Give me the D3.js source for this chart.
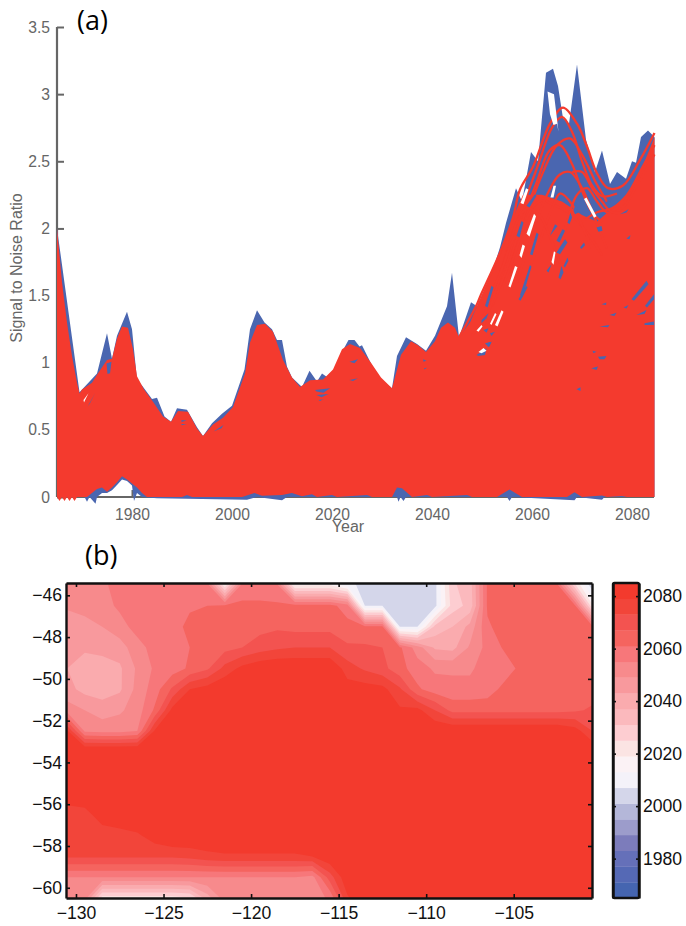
<!DOCTYPE html>
<html>
<head>
<meta charset="utf-8">
<title>Signal to Noise Ratio and emergence year</title>
<script src="https://cdn.jsdelivr.net/npm/d3@7/dist/d3.min.js"></script>
<style>
	html, body { margin: 0; padding: 0; background: #fff; }
	svg { display: block; }
	text { font-family: "Liberation Sans", Arial, sans-serif; }
</style>
</head>
<body>
<div id="chart"></div>
<script>

// ---- panel (a): [year, signal to noise]
var blueTop = [[1965,2.0],[1969.5,.78],[1971,.84],[1973,.92],[1975,1.22],[1976,1.03],[1977,1.2],[1979,1.38],[1980,1.25],[1980.8,.95],[1981,.87],[1982,.83],[1984,.73],[1985,.74],[1986.5,.6],[1987.8,.56],[1989,.66],[1991,.65],[1993,.52],[1994.2,.455],[1996,.55],[1998,.62],[2000,.68],[2002.5,.95],[2003.6,1.25],[2005,1.39],[2006.5,1.3],[2008,1.25],[2009,1.17],[2010,1.17],[2011,.97],[2012,.89],[2014,.82],[2015.5,.94],[2017,.86],[2018,.92],[2019.5,.88],[2021,.97],[2022,1.08],[2023.3,1.17],[2024.5,1.17],[2025.5,1.12],[2026,1.13],[2028,.98],[2030,.87],[2032,.81],[2033,1.05],[2034.8,1.19],[2037,1.14],[2038.8,1.09],[2040.6,1.2],[2042,1.33],[2043,1.42],[2044,1.67],[2045.4,1.19],[2047.8,1.45],[2049,1.42],[2052,1.67],[2053.6,1.86],[2054.8,2.04],[2056.8,2.3],[2058,2.2],[2059.8,2.57],[2061.2,2.5],[2062.8,3.16],[2064.2,3.19],[2065.2,3.06],[2066.2,2.82],[2067.4,2.78],[2069,3.22],[2070.8,2.66],[2072.6,2.42],[2074,2.58],[2075.6,2.33],[2077,2.42],[2078.8,2.37],[2080,2.5],[2080.8,2.49],[2081.8,2.68],[2083.2,2.73],[2084.5,2.68]];

var blueBottom = [[1965,0],[1970.5,0],[1971,-.035],[1971.5,0],[1972,-.02],[1972.7,-.05],[1973,0],[1974,.03],[1975,.03],[1976,.05],[1977,.09],[1978,.13],[1979,.12],[1980,.085],[1980.4,-.03],[1981,.03],[1982,0],[1985,-.01],[2003,-.02],[2005,0],[2010,-.025],[2011,0],[2033,0],[2033.3,-.035],[2033.7,0],[2034.3,-.03],[2034.8,0],[2055,0],[2055.5,-.03],[2056,0],[2068.5,-.025],[2069,0],[2074,-.02],[2074.5,0],[2084.5,0]];

var redSolid = [[1965,2.0],[1966,1.6],[1967,1.3],[1968,1.05],[1969,.85],[1969.5,.77],[1970,.8],[1972,.85],[1973,.91],[1975,1.02],[1976,1.03],[1977,1.18],[1978,1.27],[1979.2,1.26],[1980.2,1.1],[1981,.9],[1982.4,.8],[1984.2,.71],[1986.2,.6],[1987.8,.56],[1989.2,.64],[1991.2,.635],[1993,.51],[1994.2,.455],[1996.2,.54],[1998.2,.59],[2000.2,.67],[2002.6,.92],[2003.6,1.15],[2005,1.28],[2006.6,1.29],[2008.2,1.23],[2010.2,1.02],[2012,.89],[2013.6,.82],[2015.6,.87],[2018.2,.875],[2020.2,.95],[2022,1.1],[2023.6,1.14],[2025.6,1.11],[2027.8,1],[2029.8,.89],[2032,.81],[2033.8,1.06],[2035.8,1.16],[2037.2,1.13],[2038.8,1.08],[2040.6,1.16],[2041.8,1.26],[2043.2,1.3],[2044.6,1.26],[2045.4,1.19],[2047.6,1.3],[2049.6,1.47],[2053.6,1.82],[2056.2,2.08],[2058.2,2.25],[2062,2.25],[2066,2.2],[2070,2.1],[2073,2.05],[2076,2.15],[2079,2.25],[2082,2.45],[2084.5,2.68]];

var redBottom = [[1965,0],[1965.5,-.03],[1966,0],[1966.5,-.03],[1967,0],[1967.5,-.03],[1968,0],[1968.5,-.03],[1969,0],[1971,0],[1972,.03],[1973,.06],[1974,.07],[1975,.04],[1976,.07],[1977,.11],[1978,.155],[1979,.13],[1980,.1],[1981,.07],[1982,.03],[1983,0],[1990,0],[1991,.015],[1992,0],[2002,0],[2004.5,.03],[2006,.01],[2010,.015],[2012,.03],[2014,.005],[2016,.02],[2017,0],[2020,.015],[2021,0],[2027,.015],[2028,0],[2032,0],[2033,.07],[2034,.065],[2036,0],[2039,.015],[2040,0],[2047,.015],[2048,0],[2053,0],[2055.5,.055],[2058,0],[2067,0],[2068.5,.035],[2070,0],[2074,.012],[2075,0],[2078,.008],[2079,0],[2084.5,0]];

// individual runs that stick out of the solid part
var redStrands = [
	[[2045.4,1.19],[2048.8,1.42],[2049.6,1.49],[2053.6,1.82],[2056.2,2.08],[2057.6,2.29],[2060.2,2.46],[2063.6,2.78],[2066.2,2.9],[2069,2.78],[2071,2.61],[2073,2.41],[2075.2,2.3],[2078.2,2.32],[2081.6,2.51],[2084.5,2.71]],
	[[2050,1.4],[2053,1.6],[2056,1.95],[2058,2.15],[2061,2.45],[2064,2.75],[2066,2.83],[2068,2.72],[2070,2.5],[2072,2.32],[2074,2.24],[2077,2.26]],
	[[2052,1.42],[2055,1.7],[2058,2.05],[2061,2.35],[2063.5,2.58],[2065.6,2.62],[2068,2.48],[2070,2.28],[2072,2.12],[2074,2.05]],
	[[2056,1.75],[2059,2.1],[2062,2.4],[2065,2.62],[2067.6,2.67],[2070,2.55],[2072.8,2.34],[2075,2.2]],
	[[2054,1.55],[2056,1.75],[2058.2,1.99],[2060,2.15],[2062.2,2.21],[2064,2.18],[2067.6,2.11],[2071.6,1.94],[2074,1.8]],
	[[2057,1.6],[2060,1.95],[2063,2.25],[2065.5,2.4],[2067.6,2.42],[2070,2.3],[2072.5,2.08],[2075,1.85]],
	[[2059,1.65],[2062,1.95],[2064,2.15],[2065.6,2.26],[2068,2.18],[2070,2.02],[2072,1.85]],
	[[2050,1.25],[2052,1.45],[2055,1.8],[2057,2.05],[2059,2.15],[2061.5,2.1],[2064,1.9],[2066,1.7]],
	[[2066,1.9],[2069,2.25],[2071,2.3],[2073,2.2],[2075,2.12],[2078,2.15],[2081,2.32],[2084.5,2.55]],
	[[2070,2.05],[2073,2.12],[2076,2.15],[2079,2.25],[2082,2.45],[2084.5,2.62]],
	[[2048,1.2],[2050,1.32],[2052,1.52],[2054,1.7],[2056,1.9],[2058,2.0]],
	[[2068,2.42],[2070,2.42],[2072,2.3],[2074,2.2],[2076,2.12],[2078,2.12]]
];

// small holes in the red where the blue runs show through
var blueFlecks = [
	[[2056.9,1.945],[2057.9,2.056],[2058.3,2.044],[2057.5,1.932]],
	[[2058.9,2.168],[2060.6,2.255],[2060.9,2.243],[2059.5,2.156]],
	[[2059.6,1.808],[2060.9,1.97],[2061.3,1.957],[2060.1,1.801]],
	[[2057.3,1.473],[2058.9,1.573],[2059.1,1.56],[2057.7,1.461]],
	[[2064.9,1.908],[2066.1,1.994],[2066.6,1.982],[2065.5,1.895]],
	[[2064.9,1.821],[2066.6,1.92],[2067.1,1.895],[2065.6,1.808]],
	[[2065.3,1.635],[2065.9,1.721],[2066.3,1.672],[2065.7,1.622]],
	[[2066.3,1.721],[2067.1,1.783],[2067.3,1.759],[2066.6,1.709]],
	[[2067.1,2.044],[2067.7,2.119],[2068,2.081],[2067.5,2.032]],
	[[2068.3,2.131],[2068.8,2.193],[2069.3,2.118],[2068.6,2.106]],
	[[2069.6,1.858],[2070.4,1.895],[2070.6,1.875],[2069.9,1.846]],
	[[2072.9,2.007],[2073.9,2.019],[2074.1,1.982],[2073.3,1.975]],
	[[2074.9,2.205],[2075.9,2.223],[2075.7,2.193]],
	[[2077.6,2.106],[2079.3,2.143],[2078.9,2.118]],
	[[2078.9,1.925],[2079.7,1.95],[2079.5,1.92]],
	[[2079.9,1.473],[2082.9,1.61],[2083.3,1.585],[2080.4,1.461]],
	[[2082.6,1.424],[2084.4,1.51],[2084.4,1.473],[2083,1.411]],
	[[2063.6,1.945],[2064.6,2.032],[2065.1,2.019]],
	[[2062.9,1.684],[2063.9,1.734],[2063.3,1.672]],
	[[2050.6,1.424],[2051.9,1.573],[2052.3,1.56],[2051.1,1.411]],
	[[2073.9,1.436],[2074.9,1.449],[2074.8,1.429]],
	[[2078.3,1.411],[2079.3,1.429],[2078.9,1.404]],
	[[2073.2,1.045],[2074.9,1.05],[2074.5,1.025],[2073.5,1.025]],
	[[2071.9,.958],[2073.2,.971],[2072.9,.946]],
	[[2068.9,.802],[2069.7,.817],[2069.7,.79]],
	[[2072.1,1.09],[2072.9,1.082],[2072.3,1.07]],
	[[2075.5,1.355],[2076.9,1.373],[2076.5,1.348]],
	[[2082.5,1.293],[2084.4,1.306],[2084.4,1.281],[2082.5,1.281]],
	[[2080.9,1.355],[2082.9,1.393],[2082.5,1.363]],
	[[2073.5,1.269],[2075.5,1.281],[2075.2,1.264]],
	[[2050.9,1.144],[2051.9,1.157],[2051.5,1.12]],
	[[2023.5,1.008],[2025.2,1.025],[2024.5,.996]],
	[[2023.5,.871],[2025.2,.884],[2024.2,.864]],
	[[2038.2,1.025],[2038.9,1.015],[2038.3,1.008]],
	[[2038.4,.958],[2039,.963],[2038.5,.95]],
	[[1971.1,.673],[1972.6,.772],[1971.6,.698]],
	[[1974.9,.995],[1975.9,1.008],[1975.6,.921],[1975.1,.916]],
	[[2016.6,.797],[2019.6,.809],[2018.3,.777],[2016.9,.785]],
	[[2016.9,.76],[2019.3,.767],[2017.9,.742]],
	[[2017.3,.723],[2018.3,.728],[2017.6,.715]],
	[[1996.3,.487],[1998.3,.537],[1997.9,.512]],
	[[1989.9,.574],[1990.9,.569],[1989.9,.559]],
	[[1989.9,.544],[1990.9,.544],[1989.9,.534]],
	[[2049.9,1.318],[2051.3,1.368],[2050.9,1.331],[2049.9,1.294]],
	[[2050.3,1.244],[2051.3,1.256],[2050.9,1.224]],
	[[2050.6,1.145],[2051.9,1.157],[2051.3,1.115]],
	[[2051.6,1.219],[2052.6,1.231],[2051.9,1.199]],
	[[2057.6,1.504],[2059.6,1.728],[2059.9,1.715],[2058.1,1.487]],
	[[2048.9,1.058],[2050.9,1.107],[2050.6,1.058],[2049.3,1.05]]
];

// same thing where nothing at all is underneath
var whiteGaps = [
	[[2063.1,3.02],[2064.4,3.0],[2065.3,2.72],[2065,2.78],[2064.3,2.77],[2063.6,2.85]],
	[[2055.3,1.57],[2056.6,1.72],[2057.1,1.71],[2055.7,1.56]],
	[[2057.5,1.8],[2058.1,1.88],[2058.6,1.87],[2057.9,1.78]],
	[[2058.9,1.96],[2060.4,2.11],[2060.8,2.09],[2059.5,1.94]],
	[[2057.7,2.19],[2058.8,2.3],[2059.3,2.29],[2058.3,2.18]],
	[[2063.9,1.75],[2064.4,1.83],[2064.7,1.82],[2064.3,1.73]],
	[[2063.7,2.23],[2064.3,2.317],[2064.8,2.317],[2064.3,2.23]],
	[[2070.4,2.22],[2070.9,2.23],[2072.9,2.09],[2072.4,2.08]],
	[[2051.6,1.29],[2052.6,1.37],[2052.9,1.36],[2051.9,1.28]],
	[[2052.6,1.28],[2053.9,1.39],[2054.3,1.38],[2053.1,1.27]],
	[[2048.9,1.24],[2049.9,1.28],[2050.1,1.27],[2049.3,1.23]],
	[[2049.3,1.08],[2050.3,1.11],[2050.9,1.09],[2049.9,1.07]],
	[[1970.3,.723],[1971.3,.772],[1970.8,.735],[1970.4,.703]]
];

var yearTicks = [1980, 2000, 2020, 2040, 2060, 2080];
var ratioTicks = [0, 0.5, 1, 1.5, 2, 2.5, 3, 3.5];

// ---- panel (b): year of emergence on the 1 degree grid, north to south, west to east
var emergeYear = [
	[2052,2053,2054,2057,2058,2058,2058,2058,2058,2020,2058,2058,2056,2018,2018,2018,2010,2004,2004,2004,2003,2005,2030,2034,2062,2063,2063,2063,2062,2026,2002],
	[2050,2051,2053,2056,2056,2058,2058,2060,2061,2062,2062,2062,2062,2063,2063,2063,2058,2007,2007,2003,2003,2005,2028,2033,2062,2063,2063,2063,2063,2062,2020],
	[2045,2047,2049,2053,2057,2059,2058,2063,2063,2064,2064,2065,2066,2065,2065,2065,2063,2062,2062,2007,2007,2033,2037,2045,2060,2064,2064,2064,2064,2064,2062],
	[2044,2044,2045,2046,2053,2057,2058,2061,2063,2065,2067,2070,2072,2073,2073,2073,2068,2068,2067,2062,2052,2042,2041,2050,2057,2062,2064,2064,2064,2064,2064],
	[2043,2040,2040,2042,2050,2056,2058,2062,2066,2075,2081,2084,2085,2085,2085,2085,2076,2072,2069,2063,2058,2054,2054,2054,2058,2058,2063,2064,2064,2064,2064],
	[2045,2041,2040,2042,2051,2058,2068,2079,2082,2085,2085,2085,2085,2085,2085,2085,2082,2082,2081,2074,2062,2058,2057,2057,2058,2063,2064,2064,2064,2064,2064],
	[2052,2049,2046,2048,2052,2062,2081,2085,2085,2085,2085,2085,2085,2085,2085,2085,2085,2085,2085,2080,2081,2073,2065,2065,2065,2065,2065,2065,2065,2066,2068],
	[2080,2054,2053,2053,2055,2080,2085,2085,2085,2085,2085,2085,2085,2085,2085,2085,2085,2085,2085,2085,2085,2085,2085,2085,2085,2085,2085,2085,2085,2082,2073],
	[2085,2088,2088,2088,2088,2085,2085,2085,2085,2085,2085,2085,2085,2085,2085,2085,2085,2085,2085,2085,2085,2085,2085,2085,2085,2085,2085,2085,2085,2085,2085],
	[2085,2085,2085,2085,2085,2085,2085,2085,2085,2085,2085,2085,2085,2085,2085,2085,2085,2085,2085,2085,2085,2085,2085,2085,2085,2085,2085,2085,2085,2085,2085],
	[2085,2085,2085,2085,2085,2085,2085,2085,2085,2085,2085,2085,2085,2085,2085,2085,2085,2085,2085,2085,2085,2085,2085,2085,2085,2085,2085,2085,2085,2085,2085],
	[2074,2076,2083,2085,2085,2085,2085,2085,2085,2085,2085,2085,2085,2085,2085,2085,2085,2085,2085,2085,2085,2085,2085,2085,2085,2085,2085,2085,2085,2085,2085],
	[2075,2075,2075,2076,2078,2082,2085,2085,2085,2085,2085,2085,2085,2085,2085,2085,2085,2085,2085,2085,2085,2085,2085,2085,2085,2085,2085,2085,2085,2085,2085],
	[2074,2074,2074,2074,2074,2074,2074,2075,2077,2078,2078,2078,2078,2078,2079,2084,2085,2085,2085,2085,2085,2085,2085,2085,2085,2085,2085,2085,2085,2085,2085],
	[2055,2055,2055,2055,2055,2055,2055,2055,2055,2055,2055,2055,2055,2055,2053,2070,2084,2085,2085,2085,2085,2085,2085,2085,2085,2085,2085,2085,2085,2085,2085],
	[2052,2052,2022,2022,2022,2022,2022,2024,2040,2052,2052,2052,2052,2052,2052,2056,2078,2085,2085,2085,2085,2085,2085,2085,2085,2085,2085,2085,2085,2085,2085]
];

var lonTicks = [-130, -125, -120, -115, -110, -105];
var latTicks = [-46, -48, -50, -52, -54, -56, -58, -60];
var cbarTicks = [1980, 2000, 2020, 2040, 2060, 2080];

// colorbar bands, 6 years each, oldest first
var bandStarts = [1965,1971,1977,1983,1989,1995,2001,2007,2013,2019,2025,2031,2037,2043,2049,2055,2061,2067,2073,2079];
var bandColors = ["#4565b0","#5569b5","#6570b9","#7c7cbb","#9c9ccb","#b4b7d9","#d4d6ea","#f4f2f9","#fbf2f5","#fbe4e3","#fdcdd1","#fbb9bd","#faabae","#f8999d","#f78a8c","#f7777a","#f5645f","#f35350","#f2453a","#f33a2d"];

var BLUE = "#4a66b0";
var RED = "#f43a2e";
var GREY = "#666";

var svg = d3.select("#chart").append("svg")
	.attr("width", 686)
	.attr("height", 926);

// ---------- panel (a) ----------
var x = d3.scaleLinear().domain([1965, 2084.5]).range([57, 654.5]);
var y = d3.scaleLinear().domain([0, 3.5]).range([497, 27]);

var line = d3.line()
	.x(function(d) { return x(d[0]); })
	.y(function(d) { return y(d[1]); });

// top edge out, bottom edge back
function band(top, bottom) {
	return line(top.concat(bottom.slice().reverse())) + "Z";
}

var gx = svg.append("g")
	.attr("transform", "translate(0,497)")
	.call(d3.axisBottom(x).tickValues(yearTicks).tickFormat(d3.format("d")).tickSize(-7).tickPadding(12));
var gy = svg.append("g")
	.attr("transform", "translate(57,0)")
	.call(d3.axisLeft(y).tickValues(ratioTicks).tickFormat(d3.format("~g")).tickSize(-7).tickPadding(7));

[gx, gy].forEach(function(g) {
	g.select(".domain").attr("stroke", GREY).attr("stroke-width", 2.2).attr("fill", "none");
	g.selectAll(".tick line").attr("stroke", GREY).attr("stroke-width", 2);
	g.selectAll(".tick text").attr("fill", GREY).attr("font-size", "15.7px").attr("font-family", "Liberation Sans");
});
gx.select(".domain").attr("d", "M57,0H654");
gy.select(".domain").attr("d", "M0,27V497");
gy.selectAll(".tick text").attr("x", -7);

svg.append("path").attr("d", band(blueTop, blueBottom)).attr("fill", BLUE);
svg.append("path").attr("d", band(redSolid, redBottom)).attr("fill", RED);

var strandLine = d3.line()
	.x(function(d) { return x(d[0]); })
	.y(function(d) { return y(d[1]); })
	.curve(d3.curveCatmullRom);

svg.selectAll(".strand")
	.data(redStrands)
	.enter()
	.append("path")
	.attr("class", "strand")
	.attr("d", strandLine)
	.attr("fill", "none")
	.attr("stroke", RED)
	.attr("stroke-width", 2.3);

svg.selectAll(".fleck")
	.data(blueFlecks)
	.enter()
	.append("path")
	.attr("class", "fleck")
	.attr("d", function(d) { return line(d) + "Z"; })
	.attr("fill", BLUE);

svg.selectAll(".gap")
	.data(whiteGaps)
	.enter()
	.append("path")
	.attr("class", "gap")
	.attr("d", function(d) { return line(d) + "Z"; })
	.attr("fill", "#fff");

svg.append("text")
	.attr("x", 348)
	.attr("y", 532)
	.attr("text-anchor", "middle")
	.attr("font-size", "16px")
	.attr("fill", GREY)
	.text("Year");

svg.append("text")
	.attr("transform", "translate(22,268) rotate(-90)")
	.attr("text-anchor", "middle")
	.attr("font-size", "16px")
	.attr("fill", GREY)
	.text("Signal to Noise Ratio");

svg.append("text")
	.attr("x", 77)
	.attr("y", 30)
	.attr("font-size", "27px")
	.style("font-family", "'Open Sans'")
	.attr("fill", "#000")
	.text("(a)");

svg.append("text")
	.attr("x", 85)
	.attr("y", 565)
	.attr("font-size", "27px")
	.style("font-family", "'Open Sans'")
	.attr("fill", "#000")
	.text("(b)");

// ---------- panel (b) ----------
var lon = d3.scaleLinear().domain([-130.57, -100.53]).range([66, 592]);
var lat = d3.scaleLinear().domain([-45.41, -60.49]).range([583, 898]);

svg.append("clipPath").attr("id", "map-clip")
	.append("rect")
	.attr("x", 66).attr("y", 583)
	.attr("width", 526).attr("height", 315);

var contours = d3.contours()
	.size([emergeYear[0].length, emergeYear.length])
	.thresholds(bandStarts)(emergeYear.flat());

// d3.contours puts grid point i at i + 0.5, first point sits at -130.5 / -45.5
var gridPath = d3.geoPath(d3.geoTransform({
	point: function(cx, cy) {
		this.stream.point(lon(-131 + cx), lat(-45 - cy));
	}
}));

svg.append("g")
	.attr("clip-path", "url(#map-clip)")
	.selectAll("path")
	.data(contours)
	.enter()
	.append("path")
	.attr("d", gridPath)
	.attr("fill", function(d, i) { return bandColors[i]; });

function styleBlack(g) {
	g.select(".domain").attr("stroke", "#111").attr("stroke-width", 2.4).attr("fill", "none");
	g.selectAll(".tick line").attr("stroke", "#111").attr("stroke-width", 1.6);
	g.selectAll(".tick text").attr("fill", "#111").attr("font-size", "17.6px").attr("font-family", "Liberation Sans");
}

svg.append("g")
	.attr("transform", "translate(0,898)")
	.call(d3.axisBottom(lon).tickValues(lonTicks).tickSize(-4).tickPadding(9).tickSizeOuter(0))
	.call(styleBlack);
svg.append("g")
	.attr("transform", "translate(0,583)")
	.call(d3.axisTop(lon).tickValues(lonTicks).tickSize(-4).tickFormat("").tickSizeOuter(0))
	.call(styleBlack);
var latAxis = svg.append("g")
	.attr("transform", "translate(66,0)")
	.call(d3.axisLeft(lat).tickValues(latTicks).tickSize(-4).tickPadding(8).tickSizeOuter(0))
	.call(styleBlack);
latAxis.selectAll(".tick text").attr("x", -4);
svg.append("g")
	.attr("transform", "translate(592,0)")
	.call(d3.axisRight(lat).tickValues(latTicks).tickSize(-4).tickFormat("").tickSizeOuter(0))
	.call(styleBlack);

// ---------- colorbar ----------
var cbar = d3.scaleLinear().domain([1965, 2085]).range([898, 583]);

svg.selectAll(".cbar-band")
	.data(bandStarts)
	.enter()
	.append("rect")
	.attr("class", "cbar-band")
	.attr("x", 613)
	.attr("width", 26)
	.attr("y", function(d) { return cbar(d + 6); })
	.attr("height", function(d) { return cbar(d) - cbar(d + 6) + 0.3; })
	.attr("fill", function(d, i) { return bandColors[i]; });

svg.append("g")
	.attr("transform", "translate(639,0)")
	.call(d3.axisRight(cbar).tickValues(cbarTicks).tickFormat(d3.format("d")).tickSize(-3).tickPadding(7).tickSizeOuter(0))
	.call(styleBlack)
	.selectAll(".tick text").attr("x", 4);
svg.append("g")
	.attr("transform", "translate(613,0)")
	.call(d3.axisLeft(cbar).tickValues(cbarTicks).tickSize(-3).tickFormat("").tickSizeOuter(0))
	.call(styleBlack);
svg.append("rect")
	.attr("x", 613).attr("y", 583)
	.attr("width", 26).attr("height", 315)
	.attr("rx", 1.5)
	.attr("fill", "none")
	.attr("stroke", "#111")
	.attr("stroke-width", 2.4);

</script>
</body>
</html>
